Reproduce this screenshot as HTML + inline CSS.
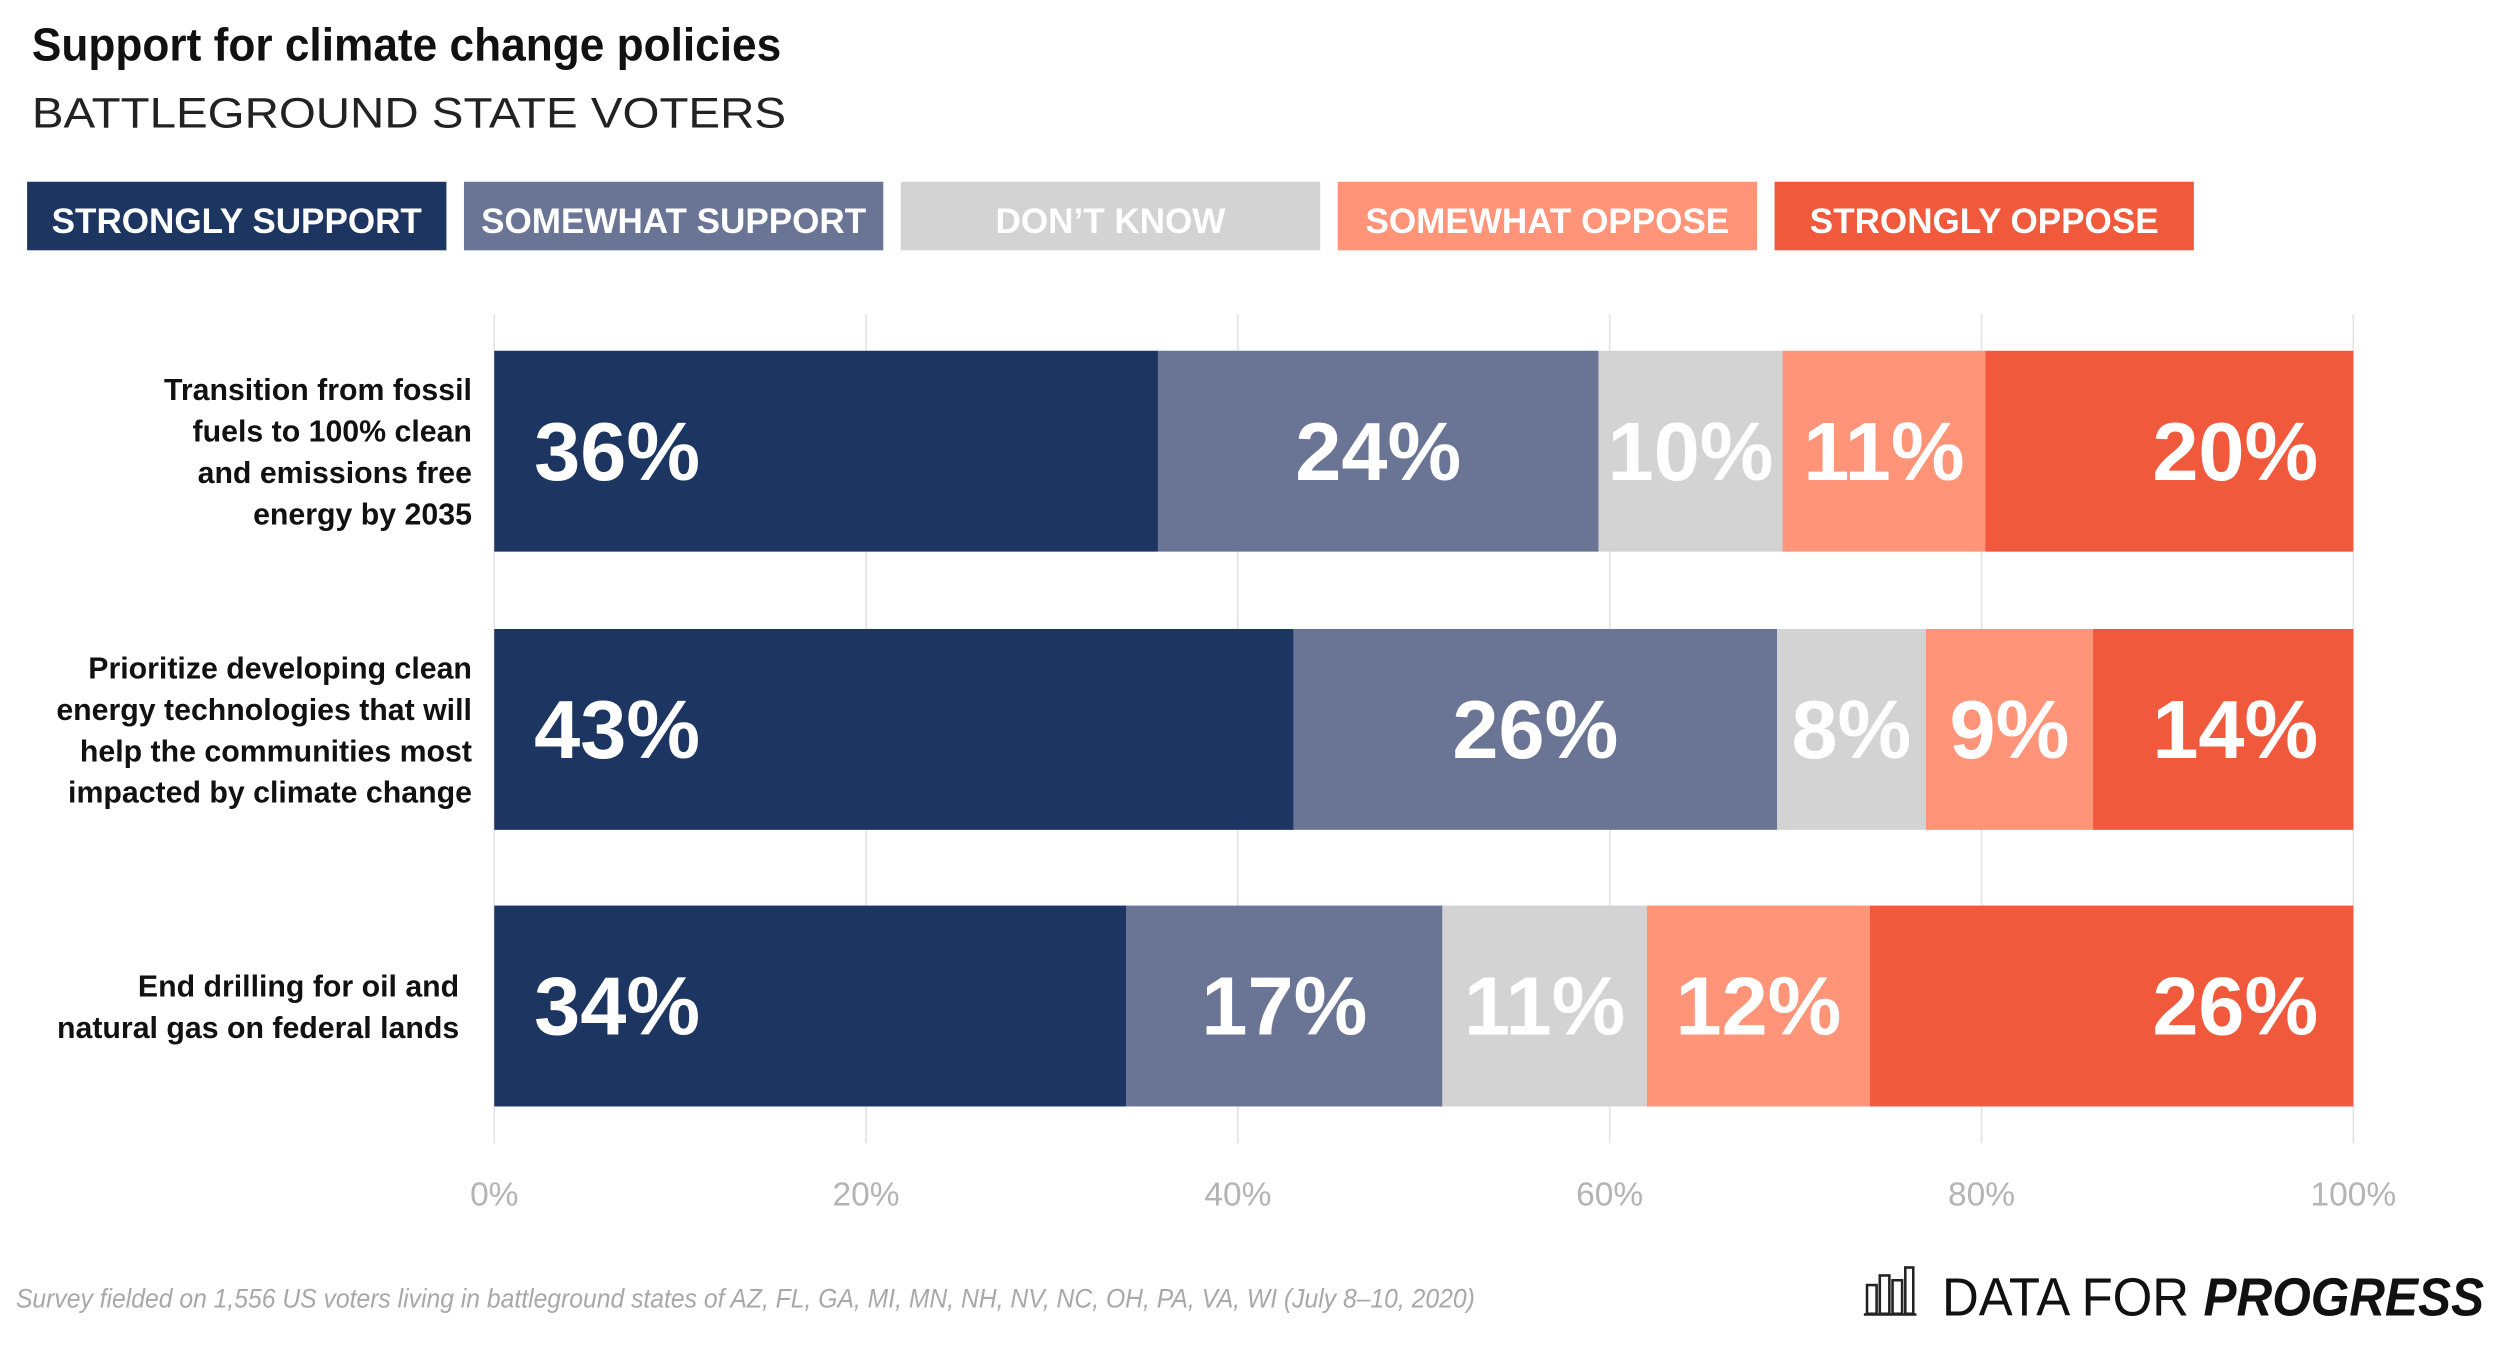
<!DOCTYPE html>
<html><head><meta charset="utf-8"><style>
html,body{margin:0;padding:0;background:#fff;}
svg{display:block;}
text{font-family:"Liberation Sans",sans-serif;}
</style></head><body>
<svg id="chart" width="2500" height="1352" viewBox="0 0 1568 848" preserveAspectRatio="none" xmlns="http://www.w3.org/2000/svg">
<text x="20" y="38" font-size="29" font-weight="bold" fill="#111" textLength="470" lengthAdjust="spacingAndGlyphs">Support for climate change policies</text>
<text x="20" y="80" font-size="27" fill="#222" textLength="473" lengthAdjust="spacingAndGlyphs">BATTLEGROUND STATE VOTERS</text>
<g id="legend"></g>
<g id="grid"></g>
<g id="bars"></g>
<g id="xaxis"></g>
<text x="10" y="820" font-size="17" font-style="italic" fill="#a8a8a8" textLength="915" lengthAdjust="spacingAndGlyphs">Survey fielded on 1,556 US voters living in battleground states of AZ, FL, GA, MI, MN, NH, NV, NC, OH, PA, VA, WI (July 8–10, 2020)</text>
<g>
<g fill="none" stroke="#222" stroke-width="1.6">
<rect x="1171" y="806" width="6" height="18"/><rect x="1179" y="800" width="6" height="24"/><rect x="1187" y="803" width="6" height="21"/><rect x="1195" y="795" width="5" height="29"/><line x1="1169" y1="824.5" x2="1202" y2="824.5"/>
</g>
<text x="1218" y="825" font-size="34" fill="#111"><tspan textLength="155" lengthAdjust="spacingAndGlyphs">DATA FOR</tspan><tspan x="1382" font-weight="bold" font-style="italic" textLength="176" lengthAdjust="spacingAndGlyphs">PROGRESS</tspan></text>
</g>
</svg>
<script>
const categories = [
  ["Transition from fossil","fuels to 100% clean","and emissions free","energy by 2035"],
  ["Prioritize developing clean","energy technologies that will","help the communities most","impacted by climate change"],
  ["End drilling for oil and","natural gas on federal lands"]
];
const seriesNames = ["STRONGLY SUPPORT","SOMEWHAT SUPPORT","DON\u2019T KNOW","SOMEWHAT OPPOSE","STRONGLY OPPOSE"];
const stronglySupport = [35.7, 43.0, 34.0];
const somewhatSupport = [23.7, 26.0, 17.0];
const dontKnow = [9.9, 8.0, 11.0];
const somewhatOppose = [10.9, 9.0, 12.0];
const stronglyOppose = [19.8, 14.0, 26.0];
const printedLabels = [["36%","24%","10%","11%","20%"],["43%","26%","8%","9%","14%"],["34%","17%","11%","12%","26%"]];
const ticks = [0,20,40,60,80,100];
const tickLabels = ["0%","20%","40%","60%","80%","100%"];

const colors = ["#1c3661","#6a7596","#d3d3d3","#ff9478","#f0593b"];
const NS = "http://www.w3.org/2000/svg";
const X0 = 310, X1 = 1476;
const xs = v => X0 + (X1 - X0) * v / 100;
const rowTop = [220, 394.5, 568], barH = 126;
const series = [stronglySupport, somewhatSupport, dontKnow, somewhatOppose, stronglyOppose];
function mk(tag, attrs, parent){const e=document.createElementNS(NS,tag);for(const k in attrs)e.setAttribute(k,attrs[k]);parent.appendChild(e);return e;}

const legend = document.getElementById('legend');
const legW = [263,263,263,263,263], legX=[17,291,565,839,1113];
seriesNames.forEach((n,i)=>{
  const g = mk('g',{},legend);
  
  
  mk('rect',{x:legX[i],y:114,width:legW[i],height:43,fill:colors[i]},g);
  const t = mk('text',{x:legX[i]+legW[i]/2,y:146,'text-anchor':'middle','font-size':22,'font-weight':'bold',fill:'#fff'},g);
  t.textContent=n;
});

const grid = document.getElementById('grid'), xaxis=document.getElementById('xaxis');
ticks.forEach((t,i)=>{
  const l = mk('line',{x1:xs(t),x2:xs(t),y1:197,y2:717,stroke:'#e3e3e3','stroke-width':1},grid);
  
  
  const tx = mk('text',{x:xs(t),y:756,'text-anchor':'middle','font-size':21,fill:'#b4b4b4'},xaxis);
  
  
  tx.textContent = tickLabels[i];
});

const bars = document.getElementById('bars');
categories.forEach((lines,r)=>{
  const y = rowTop[r];
  const lab = mk('text',{'text-anchor':'end','font-size':19,'font-weight':'bold',fill:'#111'},bars);
  
  
  const mid = y + barH/2;
  const lh = 26, start = mid - (lines.length-1)*lh/2 + 7;
  const rx = lines.length===2 ? 288 : 296;
  lines.forEach((ln,j)=>{
    const ts = mk('tspan',{x:rx,y:start+j*lh},lab);
    ts.textContent = ln;
  });
  let acc = 0;
  series.forEach((s,i)=>{
    const v = s[r];
    const xa = xs(acc), xb = xs(acc+v);
    const rc = mk('rect',{x:xa,y:y,width:xb-xa,height:barH,fill:colors[i]},bars);
    
    
    let tx, anchor;
    if(i===0){tx=xa+25;anchor='start';}
    else if(i===series.length-1){tx=xb-22;anchor='end';}
    else {tx=(xa+xb)/2;anchor='middle';}
    const vt = mk('text',{x:tx,y:mid+18,'text-anchor':anchor,'font-size':52,'font-weight':'bold',fill:'#fff'},bars);
    
    
    vt.textContent = printedLabels[r][i];
    acc += v;
  });
});
</script>
</body></html>
